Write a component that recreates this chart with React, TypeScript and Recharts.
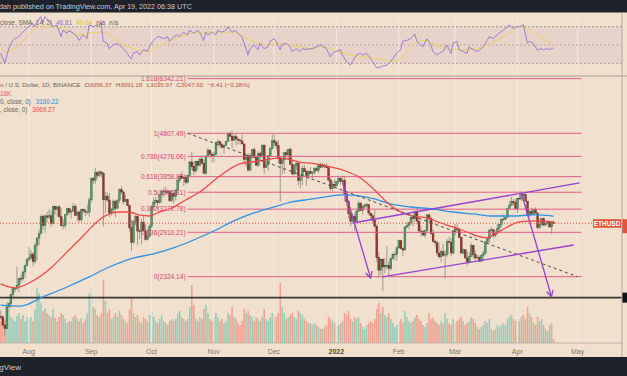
import React from 'react';
import { ComposedChart, Bar, Line, XAxis, YAxis, ReferenceLine, ReferenceArea } from 'recharts';

const FONT = '"Liberation Sans", Arial, sans-serif';
const BG = '#f1e0cd';
const W = 627;

// days are counted from 1 Aug 2021; first candle is 17 Jul 2021, last one 19 Apr 2022
const firstDay = -15;
const firstOpen = 1875;

const closes = [
  1898, 1895, 1820, 1786, 1994, 2026, 2122, 2187, 2188, 2226, 2300, 2298, 2380, 2461, 2532,
  2557, 2607, 2508, 2725, 2827, 2890, 3157, 3012, 3163, 3142, 3164, 3045, 3322, 3266, 3311, 3148, 3012, 3017, 3182, 3285, 3225, 3243, 3320, 3173, 3225, 3100, 3270, 3244, 3225, 3225, 3431,
  3830, 3789, 3938, 3887, 3952, 3926, 3430, 3497, 3427, 3211, 3266, 3408, 3288, 3427, 3611, 3571, 3399, 3435, 3333, 2978, 2766, 3077, 3154, 2930, 2925, 3064, 2930, 2807, 2850, 3000,
  3308, 3391, 3418, 3382, 3517, 3577, 3588, 3560, 3575, 3415, 3545, 3492, 3606, 3787, 3866, 3830, 3848, 3745, 3877, 4158, 4056, 3971, 4170, 4084, 4220, 4130, 3925, 4285, 4416, 4325, 4290,
  4325, 4590, 4605, 4535, 4477, 4520, 4612, 4808, 4730, 4637, 4727, 4670, 4645, 4625, 4555, 4210, 4290, 3990, 4300, 4425, 4250, 4090, 4340, 4270, 4525, 4040, 4100, 4295, 4445, 4630,
  4585, 4515, 4240, 4120, 4200, 4355, 4310, 4435, 4110, 3910, 4080, 4130, 3780, 3860, 4020, 3960, 3880, 3960, 3925, 3940, 4015, 3980, 4110, 4050, 4095, 4065, 4040, 3795, 3630, 3715, 3680,
  3770, 3830, 3765, 3790, 3540, 3400, 3200, 3080, 3155, 3080, 3240, 3375, 3250, 3310, 3335, 3350, 3210, 3165, 3095, 3000, 2560, 2400, 2540, 2440, 2460, 2460, 2420, 2545, 2600, 2605, 2690,
  2790, 2680, 2660, 2990, 3010, 3060, 3140, 3120, 3240, 3080, 2930, 2920, 2870, 2935, 3180, 3125, 2890, 2780, 2760, 2620, 2570, 2640, 2590, 2600, 2780, 2770, 2620, 2920,
  2970, 2950, 2835, 2620, 2665, 2555, 2500, 2575, 2725, 2605, 2555, 2565, 2515, 2590, 2620, 2770, 2815, 2945, 2950, 2860, 2895, 2970, 3030, 3110, 3110, 3140, 3285, 3330, 3400, 3385, 3280,
  3460, 3445, 3525, 3520, 3410, 3175, 3235, 3190, 3265, 3210, 2980, 3030, 3120, 3020, 3040, 3060, 2990, 3055, 3047.6,
];

const highs = [
  1915, 1960, 1905, 1825, 2045, 2045, 2130, 2215, 2200, 2445, 2315, 2345, 2395, 2470, 2550,
  2700, 2665, 2630, 2760, 2840, 2950, 3185, 3185, 3185, 3230, 3275, 3245, 3330, 3330, 3330, 3340, 3290, 3110, 3190, 3295, 3300, 3270, 3375, 3360, 3250, 3250, 3280, 3290, 3275, 3350, 3470,
  3840, 3840, 4030, 3970, 3985, 3970, 3950, 3580, 3560, 3550, 3290, 3440, 3420, 3440, 3630, 3680, 3590, 3525, 3450, 3340, 3100, 3090, 3175, 3170, 2960, 3115, 3170, 3030, 2970, 3040,
  3345, 3465, 3490, 3425, 3545, 3600, 3640, 3670, 3625, 3600, 3600, 3550, 3615, 3820, 3890, 3965, 3880, 3885, 3890, 4185, 4375, 4170, 4180, 4170, 4250, 4300, 4210, 4300, 4460, 4420, 4375,
  4375, 4600, 4665, 4625, 4585, 4530, 4620, 4820, 4840, 4870, 4780, 4810, 4710, 4670, 4775, 4560, 4305, 4345, 4340, 4440, 4480, 4290, 4390, 4370, 4550, 4550, 4180, 4300, 4490, 4775,
  4780, 4630, 4650, 4240, 4225, 4375, 4420, 4445, 4480, 4220, 4100, 4160, 4145, 3880, 4090, 4100, 3990, 3985, 4050, 3960, 4050, 4055, 4145, 4140, 4135, 4110, 4125, 4040, 3830, 3770, 3810,
  3775, 3850, 3840, 3880, 3855, 3545, 3420, 3230, 3205, 3200, 3265, 3415, 3390, 3340, 3365, 3375, 3355, 3215, 3195, 3265, 3035, 2630, 2550, 2550, 2550, 2720, 2515, 2560, 2625, 2645, 2710,
  2805, 2800, 2700, 3000, 3065, 3065, 3175, 3180, 3245, 3285, 3120, 3010, 2950, 2950, 3190, 3185, 3155, 2950, 2800, 2790, 2760, 2665, 2750, 2655, 2810, 2845, 2830, 2935,
  3040, 3040, 2975, 2845, 2680, 2670, 2640, 2625, 2760, 2730, 2650, 2595, 2590, 2600, 2655, 2790, 2835, 2950, 2990, 2950, 2935, 3040, 3040, 3130, 3185, 3150, 3290, 3410, 3480, 3445, 3440,
  3470, 3530, 3580, 3530, 3550, 3410, 3250, 3295, 3270, 3305, 3215, 3105, 3135, 3135, 3055, 3080, 3060, 3075, 3091.18,
];

const lows = [
  1840, 1870, 1805, 1718, 1780, 1950, 1985, 2100, 2145, 2175, 2150, 2245, 2275, 2315, 2445,
  2510, 2530, 2450, 2480, 2530, 2720, 2880, 2950, 2900, 3060, 3115, 2990, 3030, 3190, 3150, 3125, 2995, 2950, 2970, 3160, 3190, 3120, 3225, 3160, 3080, 3060, 3070, 3210, 3160, 3185, 3150,
  3390, 3720, 3720, 3830, 3850, 3850, 3000, 3210, 3400, 3150, 3170, 3230, 3140, 3275, 3380, 3530, 3350, 3395, 3330, 2920, 2650, 2740, 3020, 2725, 2810, 2740, 2925, 2790, 2795, 2835,
  2970, 3265, 3350, 3275, 3365, 3380, 3475, 3545, 3540, 3400, 3390, 3370, 3420, 3580, 3745, 3820, 3680, 3710, 3730, 3850, 4000, 3885, 3925, 3995, 4070, 4120, 3915, 3890, 4250, 4250, 4150,
  4150, 4300, 4490, 4450, 4450, 4330, 4510, 4600, 4715, 4460, 4630, 4520, 4545, 4560, 4540, 4105, 4060, 3960, 3965, 4240, 4240, 4065, 4050, 4180, 4240, 3915, 4040, 3970, 4280, 4425,
  4500, 4430, 4130, 3400, 3900, 3925, 4270, 4220, 4100, 3890, 3890, 3990, 3690, 3640, 3700, 3955, 3680, 3810, 3915, 3830, 3905, 3970, 3930, 4030, 4035, 4020, 4030, 3760, 3600, 3590, 3630,
  3675, 3720, 3700, 3740, 3400, 3320, 3125, 3000, 3070, 2930, 3055, 3225, 3240, 3185, 3280, 3300, 3175, 3090, 3050, 2985, 2500, 2310, 2340, 2160, 2365, 2410, 2330, 2400, 2535, 2520, 2520,
  2675, 2670, 2580, 2655, 2960, 2955, 3020, 3000, 3080, 3030, 2900, 2850, 2860, 2830, 2920, 3060, 2870, 2760, 2710, 2580, 2550, 2500, 2570, 2300, 2570, 2745, 2580, 2600,
  2860, 2910, 2820, 2610, 2600, 2545, 2455, 2485, 2575, 2550, 2525, 2550, 2505, 2500, 2515, 2590, 2745, 2750, 2920, 2830, 2835, 2885, 2935, 2990, 3085, 3095, 3130, 3280, 3335, 3335, 3275,
  3210, 3440, 3415, 3405, 3405, 3155, 3150, 3180, 3185, 3200, 2955, 2960, 3000, 3000, 3010, 3025, 2985, 2885, 3035.97,
];

// thousands of ETH
const volumes = [
  100, 88, 112, 96, 120, 128, 104, 96, 88, 108, 120, 96, 112, 88, 104,
  96, 104, 88, 136, 220, 200, 160, 128, 140, 120, 112, 104, 136, 100, 88, 104, 120, 112, 96, 80, 88, 88, 104, 112, 96, 88, 100, 80, 96, 120, 200,
  220, 144, 136, 112, 104, 120, 252, 168, 120, 136, 96, 104, 120, 104, 128, 112, 96, 88, 80, 136, 180, 120, 104, 112, 88, 80, 104, 96, 88, 112,
  128, 104, 88, 80, 96, 112, 88, 80, 72, 88, 96, 88, 96, 120, 128, 104, 96, 88, 96, 144, 232, 152, 96, 88, 104, 96, 136, 152, 120, 96, 88,
  104, 120, 104, 88, 96, 80, 88, 120, 112, 144, 104, 96, 80, 72, 88, 136, 120, 128, 112, 104, 88, 104, 96, 88, 104, 136, 96, 88, 104, 120,
  112, 104, 120, 240, 144, 120, 96, 104, 112, 120, 104, 96, 128, 120, 112, 96, 88, 80, 80, 72, 80, 72, 64, 56, 56, 64, 72, 104, 96, 88, 80,
  64, 72, 80, 88, 120, 112, 128, 96, 88, 104, 96, 104, 80, 64, 56, 72, 80, 88, 80, 96, 136, 160, 120, 144, 112, 104, 120, 96, 80, 64, 72,
  88, 96, 80, 128, 104, 88, 80, 88, 104, 112, 96, 88, 72, 64, 80, 120, 96, 104, 88, 80, 72, 88, 80, 120, 96, 80, 72, 96,
  80, 88, 96, 104, 88, 72, 80, 88, 104, 96, 80, 64, 56, 64, 72, 88, 80, 96, 56, 48, 56, 72, 64, 72, 80, 72, 96, 104, 112, 96, 88,
  96, 88, 104, 112, 96, 144, 120, 104, 80, 72, 104, 88, 96, 72, 56, 48, 72, 80, 16,
];

const ma50Days = [-14, -7, 2, 11, 19, 27, 35, 40, 45, 50, 55, 60, 65, 70, 78, 85, 95, 105, 115, 125, 135, 141, 148, 156, 165, 173, 178, 185, 191, 198, 205, 211, 218, 225, 228, 231, 238, 244, 251, 261];
const ma50 = [2240, 2195, 2274, 2429, 2634, 2857, 3098, 3194, 3226, 3226, 3178, 3161, 3226, 3275, 3428, 3571, 3872, 4115, 4178, 4242, 4150, 4129, 4073, 3992, 3833, 3571, 3394, 3226, 3161, 3130, 3051, 2990, 2915, 2842, 2828, 2872, 2990, 3067, 3083, 3069.27];

const ma200Days = [-14, -4, 7, 19, 30, 40, 52, 62, 72, 82, 92, 102, 112, 122, 131, 141, 150, 157, 165, 172, 180, 190, 201, 211, 221, 231, 241, 251, 261];
const ma200 = [2013, 2003, 2097, 2206, 2321, 2441, 2555, 2608, 2688, 2799, 2930, 3083, 3210, 3309, 3394, 3446, 3498, 3517, 3498, 3446, 3360, 3309, 3275, 3226, 3194, 3161, 3161, 3178, 3160.22];

const rsiDays = [-14, -12, -10, -8, -7, -5, -3, -2, 0, 2, 3, 4, 6, 7, 8, 11, 12, 14, 16, 17, 19, 20, 22, 24, 25, 27, 29, 30, 32, 34, 35, 36, 37, 39, 40, 42, 44, 45, 47, 49, 50, 51, 52, 54, 55, 57, 59, 60, 62, 64, 65, 67, 69, 70, 72, 74, 75, 77, 79, 80, 82, 84, 85, 87, 88, 89, 91, 93, 94, 96, 98, 99, 101, 103, 104, 106, 108, 109, 110, 112, 114, 115, 117, 119, 120, 122, 123, 125, 126, 128, 130, 131, 133, 135, 136, 138, 140, 141, 143, 145, 146, 148, 150, 151, 153, 155, 156, 158, 160, 161, 163, 165, 166, 168, 170, 171, 173, 175, 176, 178, 180, 181, 183, 185, 186, 188, 190, 191, 192, 193, 195, 196, 198, 200, 201, 203, 204, 206, 208, 210, 211, 213, 214, 216, 218, 219, 221, 223, 224, 226, 228, 229, 231, 233, 234, 236, 238, 239, 241, 243, 244, 246, 248, 249, 251, 253, 254, 256, 258, 259, 261];
const rsi = [41, 30, 46, 55, 57, 59, 64, 66, 70, 74, 70, 75, 81, 74, 81, 74, 70, 72, 59, 66, 63, 66, 63, 59, 55, 61, 57, 72, 70, 72, 70, 75, 54, 52, 46, 50, 52, 50, 46, 41, 37, 35, 41, 43, 39, 45, 43, 48, 55, 59, 59, 57, 59, 54, 59, 61, 59, 64, 61, 66, 63, 66, 64, 55, 64, 61, 64, 61, 66, 64, 66, 70, 64, 66, 63, 59, 46, 39, 46, 50, 45, 52, 46, 48, 54, 57, 54, 45, 50, 52, 48, 43, 46, 43, 46, 45, 46, 46, 48, 50, 49, 46, 37, 41, 43, 45, 39, 32, 28, 32, 39, 41, 39, 41, 35, 32, 25, 26, 27, 28, 32, 35, 41, 45, 54, 55, 57, 59, 62, 54, 50, 48, 57, 50, 43, 39, 41, 43, 50, 41, 52, 54, 45, 43, 41, 48, 45, 43, 44, 48, 55, 59, 57, 61, 63, 66, 70, 72, 68, 70, 70, 72, 52, 54, 52, 44, 46, 45, 46, 45, 46.81];

const rsiSmaDays = [-14, -11, -8, -4, -1, 2, 7, 11, 16, 20, 25, 30, 35, 40, 45, 52, 59, 64, 69, 75, 82, 89, 95, 102, 107, 114, 119, 123, 130, 135, 140, 146, 151, 160, 168, 176, 181, 186, 191, 196, 201, 206, 211, 216, 223, 228, 233, 239, 244, 248, 253, 258, 261];
const rsiSma = [46, 43, 45, 52, 59, 66, 70, 70, 68, 65, 61, 63, 64, 61, 54, 46, 43, 48, 54, 59, 63, 64, 64, 64, 59, 52, 50, 52, 50, 48, 46, 48, 45, 39, 37, 34, 32, 37, 50, 55, 52, 48, 45, 45, 46, 50, 55, 63, 70, 68, 61, 54, 49.04];

const monthTicks = [0, 31, 61, 92, 122, 153, 184, 212, 243, 273];
const monthLabels = ['Aug', 'Sep', 'Oct', 'Nov', 'Dec', '2022', 'Feb', 'Mar', 'Apr', 'May'];

const fibRatios = ['1.618', '1', '0.786', '0.618', '0.5', '0.382', '0.236', '0'];
const fibPrices = [6342.21, 4807.49, 4276.06, 3858.85, 3565.81, 3272.78, 2910.21, 2324.14];
const fibFrom = 79;
const fibTo = 275;

const lastClose = 3047.6;
const supportPrice = 2090;
const trendLine = [{ x: 79, y: 4807.49 }, { x: 273, y: 2324.14 }];
const channelTop = [{ x: 161, y: 3051 }, { x: 274, y: 3737 }];
const channelBottom = [{ x: 176, y: 2321 }, { x: 271, y: 2729 }];
const arrows = [
  [{ x: 156, y: 3756 }, { x: 170, y: 2309 }],
  [{ x: 245, y: 3557 }, { x: 260, y: 2100 }],
];

const xDomain = [-14.33, 295.08];
const priceDomain = [1660.7, 6427];
const volumeDomain = [0, 1068];
const rsiDomain = [16.1, 85];

const candles = closes.map((c, i) => {
  const open = i === 0 ? firstOpen : closes[i - 1]; // 24h market, a day opens at the prior close
  return { d: firstDay + i, open, close: c, high: highs[i], low: lows[i], range: [lows[i], highs[i]], vol: volumes[i], up: c >= open };
});

const ma50Map = new Map(ma50Days.map((d, i) => [d, ma50[i]]));
const ma200Map = new Map(ma200Days.map((d, i) => [d, ma200[i]]));
const priceRows = candles.map((r) => ({ ...r, ma50: ma50Map.get(r.d), ma200: ma200Map.get(r.d) }));

const rsiMap = new Map(rsiDays.map((d, i) => [d, rsi[i]]));
const smaMap = new Map(rsiSmaDays.map((d, i) => [d, rsiSma[i]]));
const rsiRows = Array.from(new Set([...rsiDays, ...rsiSmaDays]))
  .sort((a, b) => a - b)
  .map((d) => ({ d, rsi: rsiMap.get(d), sma: smaMap.get(d) }));

const Candle = (p: any) => {
  const { x, y, width, height, payload } = p;
  if (height == null || isNaN(y)) return null;
  const { open, close, high, low } = payload;
  const cx = x + width / 2;
  const span = Math.log(high / low) || 1;
  const at = (v: number) => y + (Math.log(high / v) / span) * height;
  const up = close >= open;
  const top = at(Math.min(high, Math.max(open, close)));
  const bot = at(Math.max(low, Math.min(open, close)));
  return (
    <g>
      <line x1={cx} x2={cx} y1={y} y2={y + height} stroke="#8e8a82" strokeWidth={0.8} />
      <rect x={cx - 0.95} y={top} width={1.9} height={Math.max(bot - top, 0.7)}
        fill={up ? '#4e9a6b' : '#94382b'} stroke={up ? '#2e5a3e' : '#5c2218'} strokeWidth={0.35} />
    </g>
  );
};

const VolumeBar = (p: any) => {
  const { x, y, width, height, payload } = p;
  if (height == null || isNaN(y)) return null;
  const cx = x + width / 2;
  return <rect x={cx - 0.8} y={y} width={1.6} height={Math.max(height, 0)} fill={payload.up ? '#98cdb8' : '#f3a191'} />;
};

const MonthTick = (p: any) => {
  const label = monthLabels[monthTicks.indexOf(p.payload.value)];
  const isYear = label === '2022';
  return (
    <text x={p.x} y={p.y + 10.5} textAnchor="middle" fontSize={7} fontFamily={FONT}
      fill={isYear ? '#4d4a46' : '#7b7670'} fontWeight={isYear ? 700 : 400}>{label}</text>
  );
};

const fibShape = (label: string) => (p: any) => (
  <g>
    <line x1={p.x1} y1={p.y1} x2={p.x2} y2={p.y2} stroke="#e25d87" strokeWidth={1} />
    <text x={p.x1 - 2} y={p.y1 + 2.3} textAnchor="end" fontSize={6.6} fontFamily={FONT} fill="#d6446f">{label}</text>
  </g>
);

const arrowShape = (p: any) => {
  const { x1, y1, x2, y2 } = p;
  const a = Math.atan2(y2 - y1, x2 - x1);
  const len = 7;
  const h1 = `${x2 - len * Math.cos(a - 0.5)},${y2 - len * Math.sin(a - 0.5)}`;
  const h2 = `${x2 - len * Math.cos(a + 0.5)},${y2 - len * Math.sin(a + 0.5)}`;
  return (
    <g stroke="#9b3fd1" strokeWidth={1.3} fill="none">
      <line x1={x1} y1={y1} x2={x2} y2={y2} />
      <polyline points={`${h1} ${x2},${y2} ${h2}`} />
    </g>
  );
};

const lastPriceShape = (p: any) => (
  <g>
    <line x1={p.x1} y1={p.y1} x2={p.x2} y2={p.y2} stroke="#e4553d" strokeWidth={1} strokeDasharray="1 2" />
    <rect x={p.x2 - 29} y={p.y1 - 4} width={28} height={8.5} fill="#e1543b" />
    <text x={p.x2 - 15} y={p.y1 + 2.5} textAnchor="middle" fontSize={6.5} fontWeight={700} fontFamily={FONT} fill="#ffffff">ETHUSD</text>
    <rect x={p.x2} y={p.y1 - 4} width={6} height={14} fill="#e1543b" />
  </g>
);

const supportShape = (p: any) => (
  <g>
    <line x1={p.x1} y1={p.y1} x2={p.x2 + 6} y2={p.y2} stroke="#3b3733" strokeWidth={1.8} />
    <rect x={p.x2} y={p.y1 - 5} width={6} height={10} fill="#111318" />
  </g>
);

const GRAY = '#66625e';
const DOWN = '#c0533f';

const Frame = () => (
  <svg width={W} height={376} style={{ position: 'absolute', left: 0, top: 0, pointerEvents: 'none' }} fontFamily={FONT}>
    <rect x={0} y={0} width={W} height={12.5} fill="#1f222b" />
    <text x={-1} y={9} fontSize={7.2} fill="#c8cad1">dah published on TradingView.com, Apr 19, 2022 06:38 UTC</text>
    <text x={0} y={24.5} fontSize={6.4} fill={GRAY}>
      close, SMA, 14, 2)
      <tspan dx={4} fill="#8b69d0">46.81</tspan>
      <tspan dx={4} fill="#e2bd2d">49.04</tspan>
      <tspan dx={4}>n/a</tspan>
      <tspan dx={4}>n/a</tspan>
    </text>
    <line x1={0} y1={76} x2={W} y2={76} stroke="#a59d96" strokeWidth={1} />
    <line x1={622} y1={12.5} x2={622} y2={357} stroke="#b4aba3" strokeWidth={1} />
    <text x={0} y={87.3} fontSize={6.2} fill={GRAY}>
      n / U.S. Dollar, 1D, BINANCE
      <tspan dx={4}>O</tspan><tspan fill={DOWN}>3056.37</tspan>
      <tspan dx={4}>H</tspan><tspan fill={DOWN}>3091.18</tspan>
      <tspan dx={4}>L</tspan><tspan fill={DOWN}>3035.97</tspan>
      <tspan dx={4}>C</tspan><tspan fill={DOWN}>3047.60</tspan>
      <tspan dx={4} fill={DOWN}>−8.41 (−0.28%)</tspan>
    </text>
    <text x={0} y={95.6} fontSize={6.3} fill="#ec5d4b">16K</text>
    <text x={0} y={103.8} fontSize={6.3} fill={GRAY}>
      0, close, 0)
      <tspan dx={5} fill="#2c8ee0">3160.22</tspan>
    </text>
    <text x={0} y={112} fontSize={6.3} fill={GRAY}>
      , close, 0)
      <tspan dx={5} fill="#ea4c4a">3069.27</tspan>
    </text>
    <rect x={0} y={357} width={W} height={19} fill="#1f222b" />
    <text x={21} y={370} textAnchor="end" fontSize={8} fill="#c8cad1">TradingView</text>
  </svg>
);

export default function App() {
  const margin = { top: 0, right: 5, bottom: 0, left: 0 };
  return (
    <div style={{ position: 'fixed', left: 0, top: 0, width: W, height: 376, background: BG, overflow: 'hidden', fontFamily: FONT }}>
      <div style={{ position: 'absolute', left: 0, top: 13 }}>
        <ComposedChart width={W} height={63} data={rsiRows} margin={margin}>
          <XAxis dataKey="d" type="number" domain={xDomain} allowDataOverflow hide />
          <YAxis domain={rsiDomain} allowDataOverflow hide />
          <ReferenceArea y1={30} y2={70} fill="#e8d3ca" fillOpacity={1} stroke="none" />
          {monthTicks.map((t) => (
            <ReferenceLine key={t} x={t} stroke="#f4e9de" strokeWidth={1} />
          ))}
          <ReferenceLine y={70} stroke="#a69a95" strokeDasharray="2 2" />
          <ReferenceLine y={50} stroke="#b3a7a1" strokeDasharray="2 2" />
          <ReferenceLine y={30} stroke="#a69a95" strokeDasharray="2 2" />
          <Line dataKey="sma" stroke="#ebd25e" strokeWidth={1} dot={false} connectNulls type="monotone" isAnimationActive={false} />
          <Line dataKey="rsi" stroke="#9a7ed6" strokeWidth={1} dot={false} connectNulls type="linear" isAnimationActive={false} />
        </ComposedChart>
      </div>

      <div style={{ position: 'absolute', left: 0, top: 76 }}>
        <ComposedChart width={W} height={282} data={candles} margin={margin}>
          <XAxis dataKey="d" type="number" domain={xDomain} allowDataOverflow ticks={monthTicks} interval={0}
            tick={(p: any) => <MonthTick {...p} />} tickLine={false} tickSize={0} tickMargin={0}
            axisLine={{ stroke: '#bfb5ab' }} height={15} />
          <YAxis domain={volumeDomain} allowDataOverflow hide />
          {monthTicks.map((t) => (
            <ReferenceLine key={t} x={t} stroke="#f5ebe1" strokeWidth={1} />
          ))}
          <Bar dataKey="vol" shape={VolumeBar} isAnimationActive={false} />
        </ComposedChart>
      </div>

      <div style={{ position: 'absolute', left: 0, top: 76 }}>
        <ComposedChart width={W} height={282} data={priceRows} margin={{ ...margin, bottom: 15 }}>
          <XAxis dataKey="d" type="number" domain={xDomain} allowDataOverflow hide />
          <YAxis scale="log" domain={priceDomain} allowDataOverflow hide />
          {fibPrices.map((v, i) => (
            <ReferenceLine key={v} segment={[{ x: fibFrom, y: v }, { x: fibTo, y: v }]}
              shape={fibShape(`${fibRatios[i]}(${v.toFixed(2)})`)} />
          ))}
          <ReferenceLine y={supportPrice} shape={supportShape} />
          <ReferenceLine y={lastClose} shape={lastPriceShape} />
          <Line dataKey="ma200" stroke="#2f92e4" strokeWidth={1.3} dot={false} connectNulls type="monotone" isAnimationActive={false} />
          <Line dataKey="ma50" stroke="#ef4848" strokeWidth={1.3} dot={false} connectNulls type="monotone" isAnimationActive={false} />
          <Bar dataKey="range" shape={Candle} isAnimationActive={false} />
          <ReferenceLine segment={trendLine} stroke="#4d4843" strokeDasharray="3 3" strokeWidth={1} />
          <ReferenceLine segment={channelTop} stroke="#9b3fd1" strokeWidth={1.3} />
          <ReferenceLine segment={channelBottom} stroke="#9b3fd1" strokeWidth={1.3} />
          {arrows.map((seg, i) => (
            <ReferenceLine key={i} segment={seg} shape={arrowShape} />
          ))}
        </ComposedChart>
      </div>

      <Frame />
    </div>
  );
}
